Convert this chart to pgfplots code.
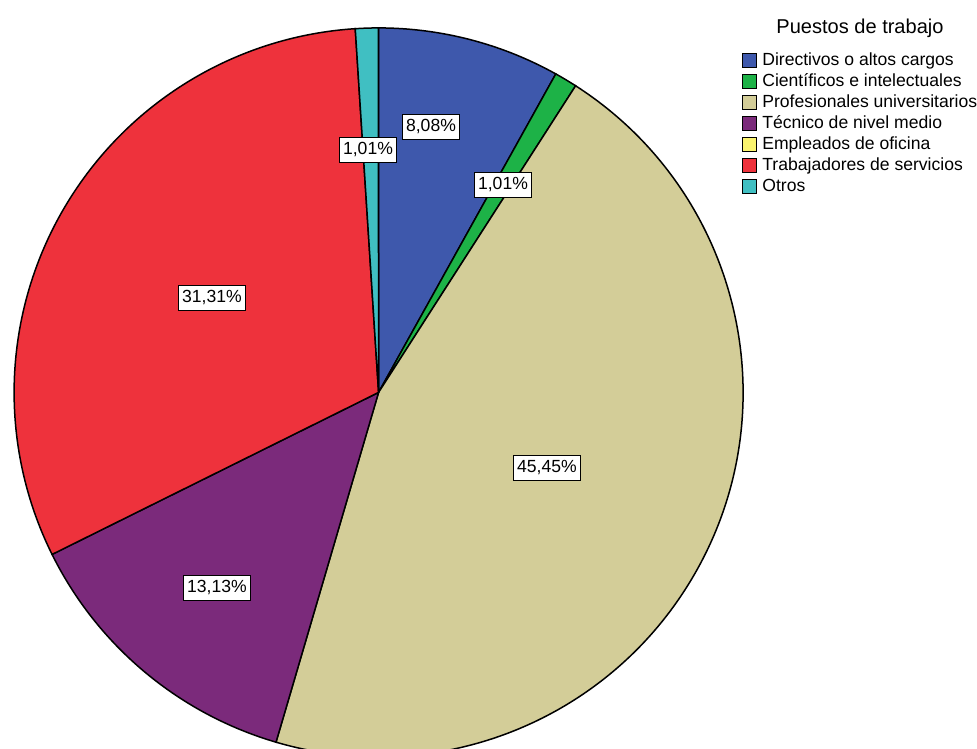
\documentclass[border=0pt]{standalone}
\usepackage{fontspec}
\setmainfont{Liberation Sans}
\usepackage{pgfplots}
\usepackage{pgfplotstable}
\pgfplotsset{compat=1.18}

\definecolor{cDir}{HTML}{3E58AC}
\definecolor{cCie}{HTML}{1DB247}
\definecolor{cPro}{HTML}{D3CD98}
\definecolor{cTec}{HTML}{7B2A7B}
\definecolor{cEmp}{HTML}{FAF46E}
\definecolor{cTra}{HTML}{EE323C}
\definecolor{cOtr}{HTML}{40BFC2}

% share of each group in percent, in drawing order (clockwise from 12 o'clock)
\pgfplotstableread{
share col
8.08  cDir
1.01  cCie
45.45 cPro
13.13 cTec
0     cEmp
31.31 cTra
1.01  cOtr
}\piedata

% 1 px of the reference = 0.02 cm
\newcommand{\px}[1]{#1*0.02}
\newcommand{\py}[1]{(749-#1)*0.02}

\begin{document}
\begin{tikzpicture}
\begin{axis}[
    x=1cm, y=1cm,
    xmin=0, xmax=19.54, ymin=0, ymax=14.98,
    hide axis,
    clip=false,
    legend style={
        at={(axis cs:{\px{742}},{\py{50}})}, anchor=north west,
        draw=none, fill=none, inner sep=0pt,
        font=\fontsize{10}{11.5}\selectfont,
        nodes={inner sep=0pt, minimum height=0.42cm},
        column sep=0.1cm, row sep=0pt,
    },
    legend cell align=left,
    legend image code/.code={
        \draw[#1, draw=black, line width=0.02cm] (0cm,-0.14cm) rectangle (0.28cm,0.14cm);
    },
]
\coordinate (SW) at (axis cs:0,0);
\coordinate (NE) at (axis cs:19.54,14.98);

\pgfmathsetmacro\cx{\px{378.5}}
\pgfmathsetmacro\cy{\py{392.5}}
\def\R{7.29}
\def\angstart{90}
\pgfplotstablegetrowsof{\piedata}
\pgfmathtruncatemacro\last{\pgfplotsretval-1}
\pgfplotsforeachungrouped \i in {0,...,\last}{
    \pgfplotstablegetelem{\i}{share}\of\piedata \let\share\pgfplotsretval
    \pgfplotstablegetelem{\i}{col}\of\piedata \let\col\pgfplotsretval
    \pgfmathsetmacro\angend{\angstart-3.6*\share}
    \ifdim \share pt>0pt
        \edef\wedge{\noexpand\filldraw[fill=\col, draw=black, line width=0.03cm]
            (axis cs:\cx,\cy) -- ++(\angstart:\R cm)
            arc[start angle=\angstart, end angle=\angend, radius=\R] -- cycle;}
        \wedge
    \fi
    \let\angstart\angend
}

\tikzset{lab/.style={draw=black, fill=white, line width=0.026cm,
    font=\fontsize{10}{11.5}\selectfont, text height=0.27cm, text depth=0.07cm,
    inner xsep=0.07cm, inner ysep=0.08cm}}
\node[lab] at (axis cs:{\px{431}},{\py{127}}) {8,08\%};
\node[lab] at (axis cs:{\px{503}},{\py{185}}) {1,01\%};
\node[lab] at (axis cs:{\px{547}},{\py{468}}) {45,45\%};
\node[lab] at (axis cs:{\px{217}},{\py{588}}) {13,13\%};
\node[lab] at (axis cs:{\px{212}},{\py{298}}) {31,31\%};
\node[lab] at (axis cs:{\px{368}},{\py{150}}) {1,01\%};

\node[font=\fontsize{11.4}{13}\selectfont] at (axis cs:{\px{860}},{\py{28}}) {Puestos de trabajo};

\addlegendimage{fill=cDir}\addlegendentry{Directivos o altos cargos}
\addlegendimage{fill=cCie}\addlegendentry{Científicos e intelectuales}
\addlegendimage{fill=cPro}\addlegendentry{Profesionales universitarios}
\addlegendimage{fill=cTec}\addlegendentry{Técnico de nivel medio}
\addlegendimage{fill=cEmp}\addlegendentry{Empleados de oficina}
\addlegendimage{fill=cTra}\addlegendentry{Trabajadores de servicios}
\addlegendimage{fill=cOtr}\addlegendentry{Otros}
\end{axis}
\pgfresetboundingbox
\useasboundingbox (SW) rectangle (NE);
\end{tikzpicture}
\end{document}
